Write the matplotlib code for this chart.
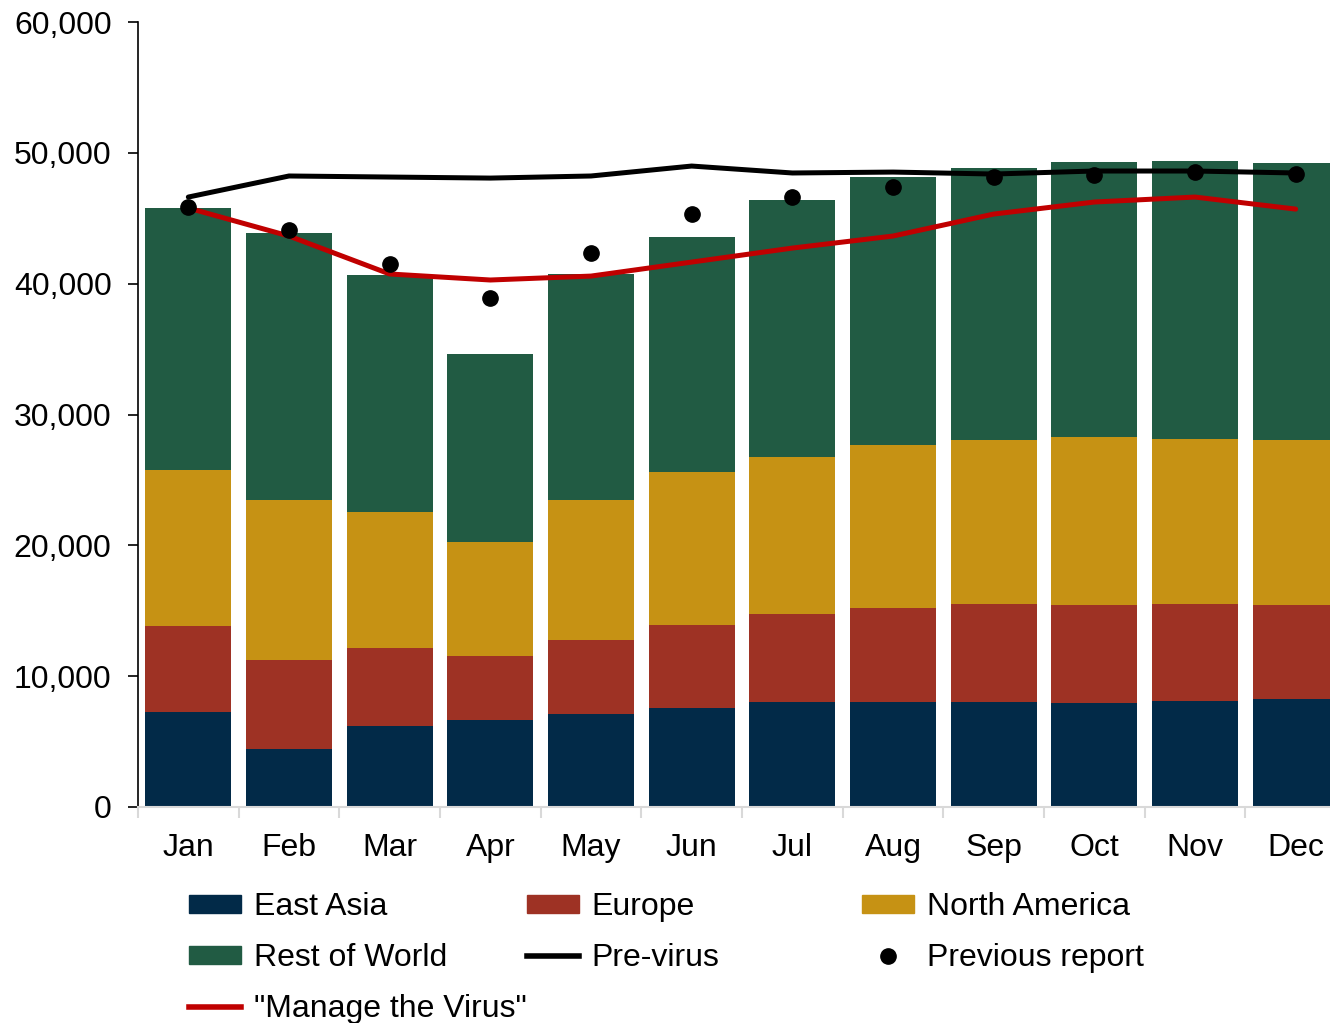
import numpy as np
import matplotlib
matplotlib.use("Agg")
from matplotlib import pyplot as plt
from matplotlib.patches import Patch
from matplotlib.lines import Line2D

months = ["Jan", "Feb", "Mar", "Apr", "May", "Jun", "Jul", "Aug", "Sep", "Oct", "Nov", "Dec"]

# stacked segment values (each region's own amount)
east_asia = [7260, 4430, 6190, 6650, 7110, 7570, 8030, 8030, 8030, 7950, 8100, 8250]
europe = [6570, 6800, 5960, 4890, 5650, 6340, 6720, 7180, 7490, 7490, 7410, 7190]
north_america = [11920, 12230, 10400, 8710, 10700, 11700, 12000, 12460, 12530, 12840, 12610, 12610]
rest_of_world = [20030, 20410, 18110, 14370, 17270, 17960, 19640, 20480, 20790, 21020, 21250, 21170]

pre_virus = [46620, 48230, 48150, 48070, 48230, 48990, 48460, 48530, 48380, 48610, 48610, 48460]
previous_report = [45860, 44100, 41500, 38900, 42340, 45320, 46620, 47390, 48150, 48300, 48530, 48380]
manage_virus = [45780, 43640, 40740, 40280, 40580, 41650, 42720, 43640, 45320, 46240, 46620, 45700]

c_ea = "#022A48"
c_eu = "#9E3224"
c_na = "#C69214"
c_rw = "#215B43"
c_red = "#C00000"

plt.rcParams['font.family'] = ['Liberation Sans', 'DejaVu Sans']

fig = plt.figure(figsize=(13.3, 10.23), dpi=100)
ax = fig.add_axes([138/1330, 216/1023, (1346-138)/1330, (807-22)/1023])

x = np.arange(len(months))
w = 0.855
b1 = np.array(east_asia)
b2 = b1 + np.array(europe)
b3 = b2 + np.array(north_america)
ax.bar(x, east_asia, w, color=c_ea, zorder=2)
ax.bar(x, europe, w, bottom=b1, color=c_eu, zorder=2)
ax.bar(x, north_america, w, bottom=b2, color=c_na, zorder=2)
ax.bar(x, rest_of_world, w, bottom=b3, color=c_rw, zorder=2)

ax.plot(x, pre_virus, color="black", lw=3.6, zorder=3, solid_capstyle="round")
ax.plot(x, manage_virus, color=c_red, lw=3.6, zorder=3, solid_capstyle="round")
ax.plot(x, previous_report, "o", color="black", ms=11, zorder=4)

ax.set_xlim(-0.5, 11.5)
ax.set_ylim(0, 60000)
ax.set_yticks(np.arange(0, 60001, 10000))
ax.set_yticklabels([f"{v:,}" for v in range(0, 60001, 10000)])
ax.set_xticks(np.arange(-0.5, 12, 1))
ax.set_xticklabels([])
ax.set_xticks(x, minor=True)
ax.set_xticklabels(months, minor=True)
ax.tick_params(axis="x", which="major", length=8, color="#D9D9D9", width=1.5)
ax.tick_params(axis="x", which="minor", length=0, pad=19, labelsize=23)
ax.tick_params(axis="y", length=7, width=1.2, color="black", pad=12, labelsize=23)

for s in ["top", "right"]:
    ax.spines[s].set_visible(False)
ax.spines["left"].set_color("black")
ax.spines["left"].set_linewidth(1.2)
ax.spines["bottom"].set_color("#D9D9D9")
ax.spines["bottom"].set_linewidth(1.5)

# legend in three columns, row order as in the original
cols = [
    [(Patch(color=c_ea), "East Asia"), (Patch(color=c_rw), "Rest of World"),
     (Line2D([], [], color=c_red, lw=4), '"Manage the Virus"')],
    [(Patch(color=c_eu), "Europe"), (Line2D([], [], color="black", lw=4), "Pre-virus")],
    [(Patch(color=c_na), "North America"),
     (Line2D([], [], color="black", marker="o", ms=11, ls="none"), "Previous report")],
]
xpos = [189/1330, 527/1330, 862/1330]
for cx, col in zip(xpos, cols):
    lg = fig.legend([h for h, _ in col], [t for _, t in col], loc="upper left",
                    bbox_to_anchor=(cx, 1 - 892/1023), frameon=False, fontsize=23,
                    handlelength=1.63, handleheight=0.5, handletextpad=0.4,
                    labelspacing=0.66, borderpad=0, borderaxespad=0)

fig.savefig("out.png", dpi=100)
